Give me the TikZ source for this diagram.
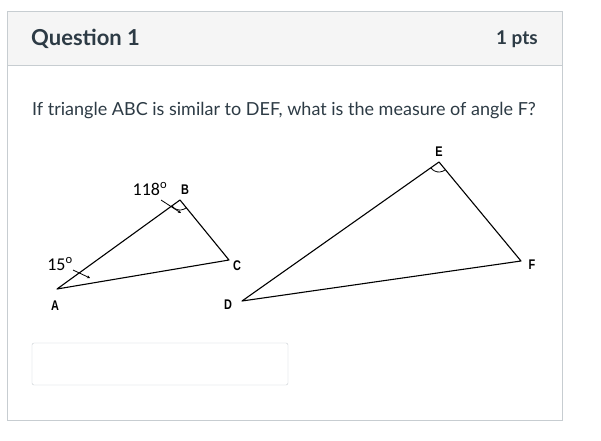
\documentclass[tikz,border=0pt]{standalone}
\usepackage{fontspec}
\setmainfont{Lato}
\newfontfamily\labelfont{Liberation Sans}
\newfontfamily\degreefont{Carlito}
\usetikzlibrary{angles, arrows.meta}
\definecolor{cardline}{HTML}{C7CDD1}
\definecolor{headfill}{HTML}{F5F5F5}
\definecolor{inktext}{HTML}{2D3B45}
\newcommand{\vname}[1]{\scalebox{0.78}[1]{#1}}

\begin{document}
\begin{tikzpicture}[x=1pt, y=-1pt,
		vertex/.style={font=\labelfont\bfseries\fontsize{14}{16}\selectfont, inner sep=0pt},
		degree/.style={font=\degreefont\fontsize{18}{20}\selectfont, inner sep=0pt},
		side/.style={line width=1.1pt, line join=round},
		pointer/.style={line width=0.8pt, -{Stealth[length=3pt,width=3pt]}}]
	\useasboundingbox (0,0) rectangle (601,440);
	%Card and header
	\fill[white] (0,0) rectangle (601,440);
	\filldraw[fill=headfill, draw=cardline] (7,11) rectangle (562,65);
	\draw[cardline] (7,65) -- (7,420) -- (562,420) -- (562,65);
	\node[anchor=west, inner sep=0pt, text=inktext, font=\bfseries\fontsize{22}{24}\selectfont] (title) at (31,39) {Question 1};
	\node[anchor=east, inner sep=0pt, text=inktext, font=\bfseries\fontsize{19}{22}\selectfont] (pts) at (538,39) {1 pts};
	%The question
	\node[anchor=west, inner sep=0pt, text=inktext, font=\fontsize{18}{20}\selectfont] (question) at (32,111)
		{If triangle ABC is similar to DEF, what is the measure of angle F?};
	%Small triangle
	\coordinate (A) at (57,289);
	\coordinate (B) at (180,200);
	\coordinate (C) at (229,260);
	\draw[side] (A) -- (B) -- (C) -- cycle;
	\pic[draw, line width=0.8pt, angle radius=10pt] {angle = A--B--C};
	\node[vertex] (labA) at (55,306) {\vname{A}};
	\node[vertex] (labB) at (185,190) {\vname{B}};
	\node[vertex] (labC) at (237,266) {\vname{C}};
	\node[degree] (ang118) at (150,189) {118\textsuperscript{o}};
	\node[degree] (ang15) at (60,264) {15\textsuperscript{o}};
	\coordinate (tip118) at (181,213);
	\coordinate (tip15) at (90,278);
	\draw[pointer] (161,200) -- (tip118);
	\draw[pointer] (73,270) -- (tip15);
	%Large triangle
	\coordinate (D) at (242,301);
	\coordinate (E) at (439,162);
	\coordinate (F) at (521,261);
	\draw[side] (D) -- (E) -- (F) -- cycle;
	\pic[draw, line width=0.8pt, angle radius=10pt] {angle = D--E--F};
	\node[vertex] (labD) at (228,305) {\vname{D}};
	\node[vertex] (labE) at (439,152) {\vname{E}};
	\node[vertex] (labF) at (532,265) {\vname{F}};
	%Answer box
	\draw[cardline, rounded corners=2pt] (32,343) rectangle (288,385);
\end{tikzpicture}
\end{document}
